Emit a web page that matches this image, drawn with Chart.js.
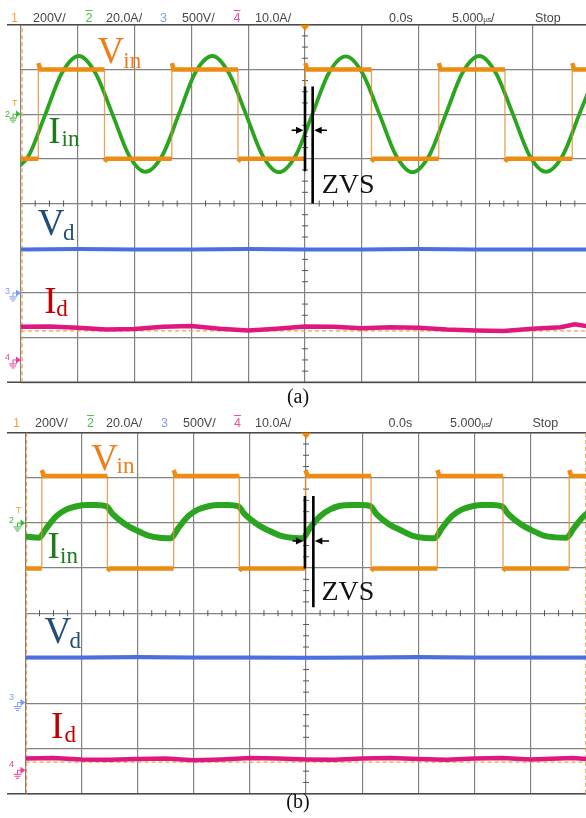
<!DOCTYPE html>
<html>
<head>
<meta charset="utf-8">
<script src="https://cdn.jsdelivr.net/npm/chart.js@4.4.1/dist/chart.umd.min.js"></script>
<style>
  html, body { margin: 0; padding: 0; background: #fff; }
  #wrap { position: relative; width: 586px; height: 818px; overflow: hidden; }
  canvas { position: absolute; left: 0; }
  .h { position: absolute; font: 12.5px "Liberation Sans", Arial, sans-serif; color: #474747; line-height: 1; white-space: nowrap; }
  .h small { font-size: 8px; letter-spacing: -0.5px; }
  .l { position: absolute; font-family: "Liberation Serif", "Times New Roman", serif; line-height: 1; white-space: nowrap; }
  .big { font-size: 37px; }
  .sub { font-size: 23px; }
  .zvs { font-size: 28px; color: #111; }
  .cap { position: absolute; width: 40px; text-align: center; font: 20px "Liberation Serif", serif; line-height: 1; color: #111; }
  .mk { position: absolute; font: 9px "Liberation Sans", sans-serif; line-height: 1; }
</style>
</head>
<body>
<div id="wrap">
  <canvas id="scopeA" width="590" height="395" style="top:0px"></canvas>
  <canvas id="scopeB" width="590" height="400" style="top:405px"></canvas>

  <!-- header (a) -->
  <span class="h" style="left:11px;top:11.5px;color:#f3a53a">1</span>
  <span class="h" style="left:33px;top:11.5px">200V/</span>
  <span class="h" style="left:85.5px;top:11.5px;color:#4cc04c;text-decoration:overline">2</span>
  <span class="h" style="left:106px;top:11.5px">20.0A/</span>
  <span class="h" style="left:160px;top:11.5px;color:#7f9cf5">3</span>
  <span class="h" style="left:182px;top:11.5px">500V/</span>
  <span class="h" style="left:233.5px;top:11.5px;color:#ee4fa0;text-decoration:overline">4</span>
  <span class="h" style="left:255px;top:11.5px">10.0A/</span>
  <span class="h" style="left:389px;top:11.5px">0.0s</span>
  <span class="h" style="left:452px;top:11.5px">5.000<small>µs</small>/</span>
  <span class="h" style="left:535px;top:11.5px">Stop</span>

  <!-- header (b) -->
  <span class="h" style="left:13px;top:417.2px;color:#f3a53a">1</span>
  <span class="h" style="left:35px;top:417.2px">200V/</span>
  <span class="h" style="left:87px;top:417.2px;color:#4cc04c;text-decoration:overline">2</span>
  <span class="h" style="left:106px;top:417.2px">20.0A/</span>
  <span class="h" style="left:161px;top:417.2px;color:#7f9cf5">3</span>
  <span class="h" style="left:183px;top:417.2px">500V/</span>
  <span class="h" style="left:234px;top:417.2px;color:#ee4fa0;text-decoration:overline">4</span>
  <span class="h" style="left:255px;top:417.2px">10.0A/</span>
  <span class="h" style="left:388.6px;top:417.2px">0.0s</span>
  <span class="h" style="left:450px;top:417.2px">5.000<small>µs</small>/</span>
  <span class="h" style="left:532.5px;top:417.2px">Stop</span>

  <!-- channel markers -->
  <span class="mk" style="left:12px;top:99px;color:#f39a2c">T</span>
  <span class="mk" style="left:5px;top:110px;color:#3cb83c">2</span>
  <span class="mk" style="left:5px;top:287px;color:#7f9cf5">3</span>
  <span class="mk" style="left:5px;top:353px;color:#ee3f98">4</span>
  <span class="mk" style="left:16px;top:506px;color:#f39a2c">T</span>
  <span class="mk" style="left:9px;top:516px;color:#3cb83c">2</span>
  <span class="mk" style="left:9px;top:693px;color:#7f9cf5">3</span>
  <span class="mk" style="left:9px;top:760px;color:#ee3f98">4</span>

  <!-- trace labels (a) -->
  <span class="l big" style="left:97.5px;top:32.3px;color:#ee7d1a">V</span>
  <span class="l sub" style="left:123.3px;top:48.7px;color:#ee7d1a">in</span>
  <span class="l big" style="left:48.3px;top:112.3px;color:#1e7b1e">I</span>
  <span class="l sub" style="left:61.5px;top:127.4px;color:#1e7b1e">in</span>
  <span class="l big" style="left:37.8px;top:204px;color:#1f4e79">V</span>
  <span class="l sub" style="left:63px;top:220.7px;color:#1f4e79">d</span>
  <span class="l big" style="left:44.3px;top:282.3px;color:#c00000">I</span>
  <span class="l sub" style="left:56.2px;top:297.4px;color:#c00000">d</span>
  <span class="l zvs" style="left:321.7px;top:169.5px">ZVS</span>

  <!-- trace labels (b) -->
  <span class="l big" style="left:91.2px;top:439px;color:#ee7d1a">V</span>
  <span class="l sub" style="left:116.5px;top:453.7px;color:#ee7d1a">in</span>
  <span class="l big" style="left:47.5px;top:527.3px;color:#1e7b1e">I</span>
  <span class="l sub" style="left:60px;top:544px;color:#1e7b1e">in</span>
  <span class="l big" style="left:44.5px;top:612.3px;color:#1f4e79">V</span>
  <span class="l sub" style="left:69.5px;top:629px;color:#1f4e79">d</span>
  <span class="l big" style="left:51px;top:707.3px;color:#c00000">I</span>
  <span class="l sub" style="left:64.5px;top:723.4px;color:#c00000">d</span>
  <span class="l zvs" style="left:321.5px;top:576.5px">ZVS</span>

  <div class="cap" style="left:278px;top:386.3px">(a)</div>
  <div class="cap" style="left:278px;top:791.3px">(b)</div>
</div>

<script>
// all values in screen divisions: x 0..10, y -4..4 (0 = centre line)

// ---- panel (a) ----
const vinA_t = [0, 0.305, 0.305, 0.34, 1.47, 1.47, 1.51, 2.655, 2.655, 2.69, 3.82, 3.82, 3.86, 5.005, 5.005, 5.04, 6.17, 6.17, 6.21, 7.355, 7.355, 7.39, 8.52, 8.52, 8.56, 9.705, 9.705, 9.74, 10.2];
const vinA_v = [1.0, 1.0, 3.14, 3.0, 3.0, 0.94, 1.0, 1.0, 3.14, 3.0, 3.0, 0.94, 1.0, 1.0, 3.14, 3.0, 3.0, 0.94, 1.0, 1.0, 3.14, 3.0, 3.0, 0.94, 1.0, 1.0, 3.14, 3.0, 3.0];

const iinA_t = [-0.16, 0.14, 0.43, 0.72, 1.02, 1.31, 1.61, 1.90, 2.19, 2.49, 2.78, 3.07, 3.37, 3.66, 3.96, 4.25, 4.54, 4.84, 5.13, 5.42, 5.72, 6.01, 6.31, 6.60, 6.89, 7.19, 7.48, 7.77, 8.07, 8.36, 8.66, 8.95, 9.24, 9.54, 9.83, 10.12];
const iinA_v = [0.70, 1.08, 2.00, 2.92, 3.30, 2.92, 2.00, 1.08, 0.71, 1.08, 2.00, 2.93, 3.30, 2.92, 2.00, 1.08, 0.70, 1.08, 2.00, 2.92, 3.29, 2.92, 2.00, 1.08, 0.70, 1.08, 2.00, 2.92, 3.30, 2.92, 2.00, 1.08, 0.71, 1.08, 2.00, 2.92];

const vdA_t = [0, 1, 2, 3, 4, 5, 6, 7, 8, 9, 10];
const vdA_v = [-1.03, -1.02, -1.03, -1.03, -1.02, -1.03, -1.03, -1.02, -1.03, -1.03, -1.03];

const idA_t = [0, 0.5, 1, 1.5, 2, 2.5, 3, 3.5, 4, 4.5, 5, 5.5, 6, 6.5, 7, 7.5, 8, 8.5, 9, 9.5, 9.75, 10];
const idA_v = [-2.76, -2.75, -2.78, -2.82, -2.81, -2.76, -2.74, -2.80, -2.84, -2.80, -2.75, -2.76, -2.79, -2.77, -2.78, -2.82, -2.84, -2.85, -2.80, -2.77, -2.70, -2.75];

const refA_v = -2.85;
const cursorsA = [0.02];

// ---- panel (b) ----
const vinB_t = [0, 0.29, 0.29, 0.33, 1.46, 1.46, 1.50, 2.64, 2.64, 2.68, 3.81, 3.81, 3.85, 4.99, 4.99, 5.03, 6.16, 6.16, 6.20, 7.34, 7.34, 7.38, 8.51, 8.51, 8.55, 9.69, 9.69, 9.73, 10.2];
const vinB_v = [0.99, 0.99, 3.17, 3.04, 3.04, 0.94, 0.99, 0.99, 3.17, 3.04, 3.04, 0.94, 0.99, 0.99, 3.17, 3.04, 3.04, 0.94, 0.99, 0.99, 3.17, 3.04, 3.04, 0.94, 0.99, 0.99, 3.17, 3.04, 3.04];

const iinB_t = [0, 0.24, 0.37, 0.55, 0.73, 0.91, 1.09, 1.26, 1.44, 1.56, 1.79, 1.97, 2.19, 2.39,
                2.59, 2.72, 2.90, 3.08, 3.26, 3.44, 3.61, 3.79, 3.91, 4.14, 4.32, 4.54, 4.74,
                4.94, 5.07, 5.25, 5.43, 5.61, 5.79, 5.96, 6.14, 6.26, 6.49, 6.67, 6.89, 7.09,
                7.29, 7.42, 7.60, 7.78, 7.96, 8.14, 8.31, 8.49, 8.61, 8.84, 9.02, 9.24, 9.44,
                9.64, 9.77, 9.95, 10.13];
const iinB_v = [1.70, 1.67, 1.88, 2.15, 2.30, 2.37, 2.40, 2.40, 2.37, 2.19, 1.96, 1.84, 1.72, 1.67,
                1.66, 1.88, 2.15, 2.30, 2.37, 2.40, 2.40, 2.37, 2.19, 1.96, 1.84, 1.72, 1.67,
                1.66, 1.89, 2.15, 2.30, 2.38, 2.40, 2.40, 2.38, 2.19, 1.96, 1.85, 1.72, 1.67,
                1.66, 1.88, 2.15, 2.30, 2.37, 2.40, 2.40, 2.37, 2.19, 1.96, 1.84, 1.72, 1.68,
                1.67, 1.88, 2.15, 2.30];

const vdB_t = [0, 1, 2, 3, 4, 5, 6, 7, 8, 9, 10];
const vdB_v = [-0.98, -0.98, -0.97, -0.98, -0.98, -0.99, -0.98, -0.97, -0.98, -0.98, -0.98];

const idB_t = [0, 0.5, 1, 1.5, 2, 2.5, 3, 3.5, 4, 4.5, 5, 5.5, 6, 6.5, 7, 7.5, 8, 8.5, 9, 9.5, 9.75, 10];
const idB_v = [-3.22, -3.21, -3.24, -3.25, -3.23, -3.22, -3.26, -3.24, -3.21, -3.22, -3.24, -3.25, -3.22, -3.21, -3.23, -3.25, -3.22, -3.21, -3.24, -3.22, -3.21, -3.23];

const refB_v = -3.30;
const cursorsB = [0.02, 9.985];

// ground markers (channel offsets)
const gndA = [2, -2, -3.5];
const gndB = [2, -1.98, -3.48];

const pts = (t, v) => t.map((x, i) => ({ x: x, y: v[i] }));
const flat = (v) => [{ x: 0, y: v }, { x: 10, y: v }];

const ORANGE = '#ec8c12';
const GREEN = '#2ba51f';
const BLUE = '#4a6fe0';
const MAGENTA = '#e0187e';
const GND_COLORS = ['#3cb83c', '#7f9cf5', '#ee3f98'];

const scopeDeco = {
  id: 'scopeDeco',
  beforeDatasetsDraw(chart) {
    const { ctx, chartArea: a, scales: { x, y } } = chart;
    ctx.save();
    // top and bottom frame run out past the left edge
    ctx.strokeStyle = '#4a4a4a';
    ctx.lineWidth = 1.5;
    ctx.beginPath();
    ctx.moveTo(7, a.top); ctx.lineTo(a.right, a.top);
    ctx.moveTo(7, a.bottom); ctx.lineTo(a.right, a.bottom);
    ctx.stroke();
    // minor ticks on the centre cross
    const cx = x.getPixelForValue(5), cy = y.getPixelForValue(0);
    ctx.strokeStyle = '#555';
    ctx.lineWidth = 1;
    ctx.beginPath();
    for (let v = 0.25; v < 10; v += 0.25) {
      if (v % 1 === 0) continue;
      const px = x.getPixelForValue(v);
      ctx.moveTo(px, cy - 3); ctx.lineTo(px, cy + 3);
    }
    for (let v = -3.75; v < 4; v += 0.25) {
      if (v % 1 === 0) continue;
      const py = y.getPixelForValue(v);
      ctx.moveTo(cx - 3, py); ctx.lineTo(cx + 3, py);
    }
    ctx.stroke();
    ctx.restore();
  },
  afterDatasetsDraw(chart, args, opts) {
    const { ctx, chartArea: a, scales: { x, y } } = chart;
    ctx.save();
    // trigger position marker
    const cx = x.getPixelForValue(5);
    ctx.fillStyle = '#f08a00';
    ctx.beginPath();
    ctx.moveTo(cx - 5, a.top); ctx.lineTo(cx + 5, a.top); ctx.lineTo(cx, a.top + 6);
    ctx.fill();
    // ground markers on the left
    opts.gnd.forEach((v, i) => {
      const py = y.getPixelForValue(v);
      const gx = a.left - 8;
      ctx.strokeStyle = GND_COLORS[i];
      ctx.fillStyle = GND_COLORS[i];
      ctx.lineWidth = 1;
      ctx.beginPath();
      ctx.moveTo(gx, py); ctx.lineTo(a.left - 4, py);
      ctx.moveTo(gx, py); ctx.lineTo(gx, py + 4);
      ctx.moveTo(gx - 4, py + 4); ctx.lineTo(gx + 4, py + 4);
      ctx.moveTo(gx - 3, py + 6); ctx.lineTo(gx + 3, py + 6);
      ctx.moveTo(gx - 1.5, py + 8); ctx.lineTo(gx + 1.5, py + 8);
      ctx.stroke();
      ctx.beginPath();
      ctx.moveTo(a.left - 5, py - 3.5); ctx.lineTo(a.left, py); ctx.lineTo(a.left - 5, py + 3.5);
      ctx.fill();
    });
    // ZVS annotation
    const z = opts.zvs;
    const xl = x.getPixelForValue(z.xl), xr = x.getPixelForValue(z.xr);
    const ay = y.getPixelForValue(z.ay);
    ctx.strokeStyle = '#000';
    ctx.fillStyle = '#000';
    ctx.lineWidth = 2.6;
    ctx.beginPath();
    ctx.moveTo(xl, y.getPixelForValue(z.top)); ctx.lineTo(xl, y.getPixelForValue(z.botL));
    ctx.moveTo(xr, y.getPixelForValue(z.top)); ctx.lineTo(xr, y.getPixelForValue(z.botR));
    ctx.stroke();
    const tl = x.getPixelForValue(z.tailL), tr = x.getPixelForValue(z.tailR);
    ctx.lineWidth = 1.6;
    ctx.beginPath();
    ctx.moveTo(tl, ay); ctx.lineTo(xl - 7, ay);
    ctx.moveTo(tr, ay); ctx.lineTo(xr + 7, ay);
    ctx.stroke();
    ctx.beginPath();
    ctx.moveTo(xl - 1.5, ay); ctx.lineTo(xl - 9, ay - 3.5); ctx.lineTo(xl - 9, ay + 3.5);
    ctx.moveTo(xr + 1.5, ay); ctx.lineTo(xr + 9, ay - 3.5); ctx.lineTo(xr + 9, ay + 3.5);
    ctx.fill();
    ctx.restore();
  }
};

function buildScope(canvasId, d) {
  const ctx = document.getElementById(canvasId).getContext('2d');
  const axis = (min, max) => ({
    type: 'linear',
    min: min,
    max: max,
    ticks: { display: false, stepSize: 1 },
    grid: { color: '#828282', lineWidth: 1.2, drawTicks: false },
    border: { display: false }
  });
  const cursorSets = d.cursors.map(cx => ({
    label: 'cursor',
    data: [{ x: cx, y: -4 }, { x: cx, y: 4 }],
    borderColor: '#f0a040',
    borderWidth: 1.2,
    borderDash: [4, 3]
  }));
  return new Chart(ctx, {
    type: 'line',
    data: {
      datasets: [
        {
          label: 'Vin',
          data: pts(d.vinT, d.vinV),
          borderColor: ORANGE,
          borderWidth: 4.5,
          tension: 0,
          // edges of the square wave are thin and pale
          segment: {
            borderWidth: c => c.p0.parsed.x === c.p1.parsed.x ? 1.3 : undefined,
            borderColor: c => c.p0.parsed.x === c.p1.parsed.x ? 'rgba(225,140,50,0.8)' : undefined
          }
        },
        {
          label: 'Iin',
          data: pts(d.iinT, d.iinV),
          borderColor: GREEN,
          borderWidth: d.iinWidth,
          cubicInterpolationMode: 'monotone'
        },
        {
          label: 'Vd',
          data: pts(d.vdT, d.vdV),
          borderColor: BLUE,
          borderWidth: 4,
          tension: 0
        },
        {
          label: 'Id',
          data: pts(d.idT, d.idV),
          borderColor: MAGENTA,
          borderWidth: 4.5,
          tension: 0
        },
        {
          label: 'cursorY',
          data: flat(d.ref),
          borderColor: '#f0a040',
          borderWidth: 1.2,
          borderDash: [4, 3]
        },
        ...cursorSets
      ]
    },
    options: {
      responsive: false,
      animation: false,
      events: [],
      layout: { padding: d.pad },
      elements: { point: { radius: 0 } },
      scales: { x: axis(0, 10), y: axis(-4, 4) },
      plugins: {
        legend: { display: false },
        tooltip: { enabled: false },
        scopeDeco: { gnd: d.gnd, zvs: d.zvs }
      }
    },
    plugins: [scopeDeco]
  });
}

buildScope('scopeA', {
  vinT: vinA_t, vinV: vinA_v, iinT: iinA_t, iinV: iinA_v, iinWidth: 3.8,
  vdT: vdA_t, vdV: vdA_v, idT: idA_t, idV: idA_v, ref: refA_v, gnd: gndA, cursors: cursorsA,
  pad: { left: 21, top: 24.7, right: 1, bottom: 12.7 },
  zvs: { xl: 5.0, xr: 5.135, top: 2.62, botL: 0.72, botR: 0, ay: 1.64, tailL: 4.765, tailR: 5.387 }
});

buildScope('scopeB', {
  vinT: vinB_t, vinV: vinB_v, iinT: iinB_t, iinV: iinB_v, iinWidth: 6,
  vdT: vdB_t, vdV: vdB_v, idT: idB_t, idV: idB_v, ref: refB_v, gnd: gndB, cursors: cursorsB,
  pad: { left: 25.5, top: 27.7, right: 3.4, bottom: 11.3 },
  zvs: { xl: 4.98, xr: 5.13, top: 2.6, botL: 0.99, botR: 0.13, ay: 1.60, tailL: 4.76, tailR: 5.41 }
});
</script>
</body>
</html>
